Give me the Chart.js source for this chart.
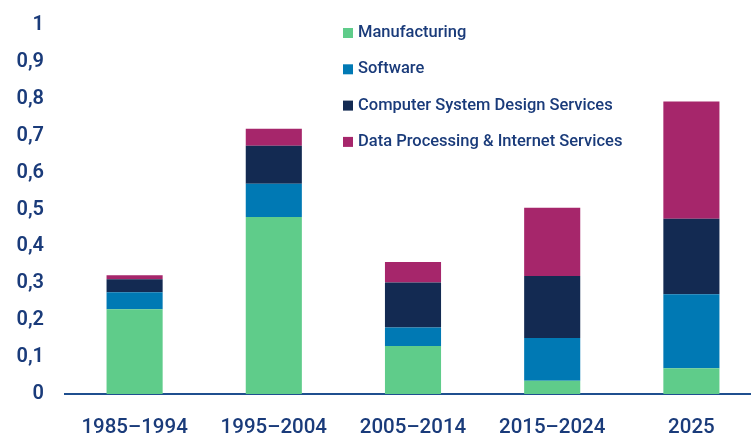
<!DOCTYPE html>
<html>
<head>
<meta charset="utf-8">
<script src="https://cdn.jsdelivr.net/npm/chart.js@4"></script>
<style>
  html, body { margin: 0; padding: 0; background: #fff; overflow: hidden; }
  #wrap { width: 761px; height: 436px; position: relative; }
</style>
</head>
<body>
<div id="wrap"><canvas id="chart"></canvas></div>
<script>
const periods = ['1985\u20131994', '1995\u20132004', '2005\u20132014', '2015\u20132024', '2025'];
const manufacturing = [0.23, 0.48, 0.13, 0.036, 0.07];
const software = [0.046, 0.09, 0.05, 0.116, 0.20];
const systemDesign = [0.035, 0.103, 0.122, 0.168, 0.205];
const dataProcessing = [0.011, 0.046, 0.056, 0.185, 0.318];
const yTicks = [0, 0.1, 0.2, 0.3, 0.4, 0.5, 0.6, 0.7, 0.8, 0.9, 1];

const navy = '#1a3b7a';

// legend stacked in a column inside the plot area
const columnLegend = {
  id: 'columnLegend',
  afterDraw(chart) {
    const c = chart.ctx;
    c.save();
    c.font = '500 16.5px Roboto';
    c.textBaseline = 'middle';
    chart.data.datasets.forEach((ds, i) => {
      const y = 33 + i * 36.3;
      c.fillStyle = ds.backgroundColor;
      c.fillRect(343, y - 5, 10, 10);
      c.fillStyle = navy;
      c.fillText(ds.label, 358, y);
    });
    c.restore();
  }
};

new Chart(document.getElementById('chart'), {
  type: 'bar',
  data: {
    labels: periods,
    datasets: [
      { label: 'Manufacturing', data: manufacturing, backgroundColor: '#5fcc8a' },
      { label: 'Software', data: software, backgroundColor: '#0079b4' },
      { label: 'Computer System Design Services', data: systemDesign, backgroundColor: '#132a52' },
      { label: 'Data Processing & Internet Services', data: dataProcessing, backgroundColor: '#a6266b' }
    ]
  },
  options: {
    responsive: true,
    maintainAspectRatio: false,
    animation: false,
    datasets: { bar: { barPercentage: 0.403, categoryPercentage: 1 } },
    layout: { padding: { top: 12, right: 0, left: 0, bottom: 0 } },
    plugins: { legend: { display: false }, tooltip: { enabled: false } },
    scales: {
      x: {
        stacked: true,
        grid: { display: false },
        border: { display: true, color: '#1f4f8f', width: 2 },
        ticks: { color: navy, font: { family: 'Roboto', size: 20.5, weight: '500' }, padding: 14 },
        afterFit(scale) { scale.height = 42; }
      },
      y: {
        stacked: true,
        min: 0,
        max: 1,
        afterBuildTicks(scale) { scale.ticks = yTicks.map(v => ({ value: v })); },
        grid: { display: false },
        border: { display: false },
        ticks: {
          color: navy,
          font: { family: 'Roboto', size: 20, weight: '600' },
          padding: 13,
          callback: v => (v === 0 || v === 1) ? String(v) : v.toFixed(1).replace('.', ',')
        },
        afterFit(scale) { scale.width = 65; }
      }
    }
  },
  plugins: [columnLegend]
});
</script>
</body>
</html>
